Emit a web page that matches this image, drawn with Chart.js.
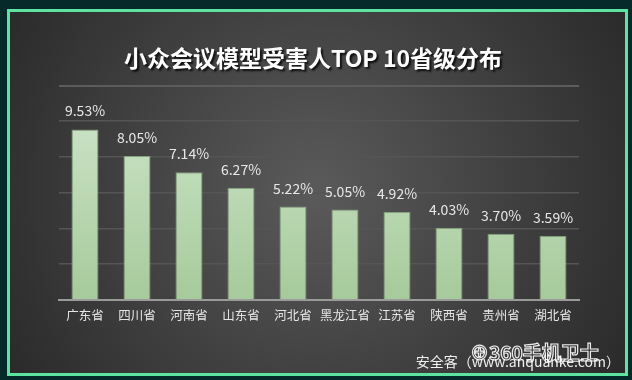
<!DOCTYPE html>
<html>
<head>
<meta charset="utf-8">
<script src="https://cdn.jsdelivr.net/npm/chart.js@4.4.1/dist/chart.umd.min.js"></script>
<style>
html,body{margin:0;padding:0;background:#062a2a;}
#wrap{position:relative;width:632px;height:380px;}
canvas{display:block;}
</style>
</head>
<body>
<div id="wrap"><canvas id="c" width="632" height="380"></canvas></div>
<script>
const titleText = '小众会议模型受害人TOP 10省级分布';
const categories = ['广东省','四川省','河南省','山东省','河北省','黑龙江省','江苏省','陕西省','贵州省','湖北省'];
const values = [9.53, 8.05, 7.14, 6.27, 5.22, 5.05, 4.92, 4.03, 3.70, 3.59];
const yMax = 10;
const yStep = 2;
const watermark = '安全客（www.anquanke.com）';
const logoText = '360手机卫士';

const FONT = '"Noto Sans CJK SC", "Microsoft YaHei", sans-serif';

const bgPlugin = {
  id: 'bg',
  beforeDraw(chart) {
    const ctx = chart.ctx;
    const W = chart.width, H = chart.height;
    ctx.save();
    ctx.fillStyle = '#062a2a';
    ctx.fillRect(0, 0, W, H);
    // border
    ctx.fillStyle = '#5fe3a0';
    ctx.fillRect(7, 9, 621, 367);
    // inner gradient
    const g = ctx.createRadialGradient(316, 190, 10, 316, 190, 360);
    g.addColorStop(0, '#595959');
    g.addColorStop(1, '#2a2a2a');
    ctx.fillStyle = g;
    ctx.fillRect(10, 12, 615, 361);
    // title
    ctx.font = 'bold 23px ' + FONT;
    ctx.textAlign = 'center';
    ctx.textBaseline = 'middle';
    ctx.shadowColor = 'rgba(0,0,0,0.8)';
    ctx.shadowOffsetX = 2;
    ctx.shadowOffsetY = 2;
    ctx.shadowBlur = 2;
    ctx.fillStyle = '#ffffff';
    ctx.fillText(titleText, 313, 58);
    ctx.shadowColor = 'transparent';
    // separator
    ctx.fillStyle = '#5c5c5c';
    ctx.fillRect(59, 85, 520, 2);
    ctx.restore();
  },
  afterDraw(chart) {
    const ctx = chart.ctx;
    ctx.save();
    // data labels
    const meta = chart.getDatasetMeta(0);
    ctx.font = '14px ' + FONT;
    ctx.fillStyle = '#e8e8e8';
    ctx.textAlign = 'center';
    ctx.textBaseline = 'alphabetic';
    meta.data.forEach((bar, i) => {
      ctx.fillText(values[i].toFixed(2) + '%', bar.x, bar.y - 13);
    });
    // watermark
    ctx.font = '14px ' + FONT;
    ctx.textAlign = 'right';
    ctx.fillStyle = '#f0f0f0';
    ctx.fillText(watermark, 620, 367);
    ctx.font = 'bold 19px ' + FONT;
    ctx.textAlign = 'left';
    ctx.lineWidth = 1.2;
    ctx.strokeStyle = 'rgba(255,255,255,0.9)';
    ctx.strokeText('⊕' + logoText, 470, 360);
    ctx.restore();
  }
};

const chart = new Chart(document.getElementById('c'), {
  type: 'bar',
  data: {
    labels: categories,
    datasets: [{
      data: values,
      backgroundColor(context) {
        const ca = context.chart.chartArea;
        if (!ca) return '#b8d6b0';
        const g = context.chart.ctx.createLinearGradient(0, ca.top, 0, ca.bottom);
        g.addColorStop(0, '#c9e2c4');
        g.addColorStop(1, '#a6ca9b');
        return g;
      },
      borderColor: 'rgba(140,170,130,0.9)',
      borderWidth: 1,
      barPercentage: 0.52,
      categoryPercentage: 1.0
    }]
  },
  options: {
    responsive: false,
    animation: false,
    layout: { padding: { left: 59, right: 53, top: 121, bottom: 50 } },
    plugins: { legend: { display: false }, tooltip: { enabled: false }, title: { display: false } },
    scales: {
      x: {
        grid: { display: false, drawTicks: false },
        border: { display: true, color: '#9a9a9a', width: 2 },
        ticks: { color: '#e6e6e6', font: { size: 12.5, family: FONT }, padding: 8, maxRotation: 0, autoSkip: false },
        afterFit(s) { s.height = 30; }
      },
      y: {
        min: 0, max: yMax,
        ticks: { display: false, stepSize: yStep },
        grid: { color: '#555555', lineWidth: 1.5, drawTicks: false },
        border: { display: false },
        afterFit(s) { s.width = 0; }
      }
    }
  },
  plugins: [bgPlugin]
});
</script>
</body>
</html>
